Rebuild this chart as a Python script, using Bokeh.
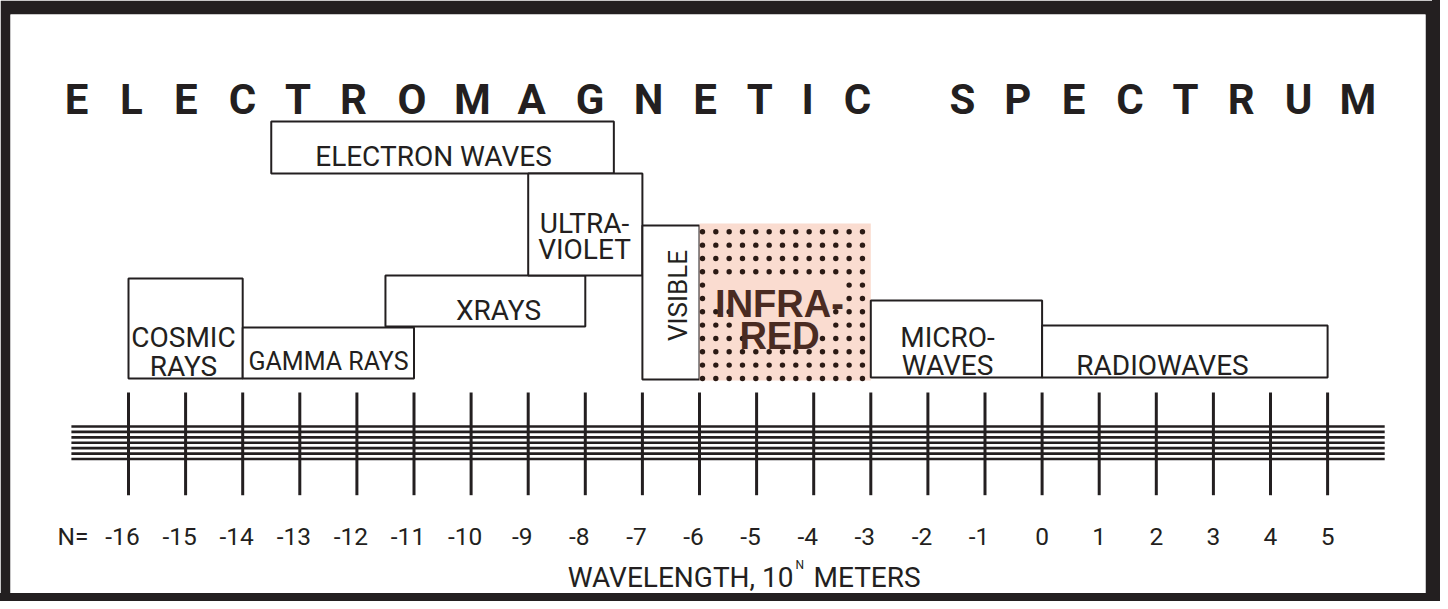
import numpy as np
from bokeh.plotting import figure
from bokeh.models import Range1d, ColumnDataSource
from bokeh.core.properties import value
from bokeh.embed import file_html
from bokeh.resources import INLINE

# ---------------- data ----------------
title_text = "ELECTROMAGNETIC SPECTRUM"
band_names = ["COSMIC\nRAYS", "GAMMA RAYS", "XRAYS", "ELECTRON WAVES",
              "ULTRA-\nVIOLET", "VISIBLE", "INFRA-\nRED", "MICRO-\nWAVES", "RADIOWAVES"]
band_from = [-16, -14, -11.5, -13.5, -9, -7, -6, -3, 0]   # N, wavelength = 10^N m
band_to = [-14, -11, -8, -7.5, -7, -6, -3, 0, 5]
tick_n = list(range(-16, 6))
tick_text = [str(n) for n in tick_n]
axis_prefix = "N="
axis_title_main = "WAVELENGTH, 10"
axis_title_sup = "N"
axis_title_unit = "METERS"

# ---------------- layout / style ----------------
DARK = "#231f20"
PEACH = "#fadcd0"
DOT = "#2b1a14"
IR_TEXT = "#4a2b22"
ROBOTO = "Roboto"
BOLD = "Liberation Sans"

PX0, PXU = 136.0, 57.1          # screen x of N=-16, pixels per unit of N


def nx(px):
    return -16 + (px - PX0) / PXU


band_top = [286, 335, 283, 129, 181, 233, 231, 308, 333]
band_bottom = [386, 386, 334, 181, 283, 387, 388, 385, 385]
band_fill = ["white"] * 6 + [PEACH] + ["white"] * 2
band_line_alpha = [1] * 6 + [0] + [1] * 2

label_cx = [191, 336, 506, 441, 592, 685, 787, 955, 1170]
label_base = [345.3, 368.8, 317.7, 164.3, 231, 303, 311, 345, 372.7]
label_gap = [28.7, 0, 0, 0, 25.7, 0, 32.6, 27.7, 0]
label_font = [ROBOTO, ROBOTO, ROBOTO, ROBOTO, ROBOTO, ROBOTO, BOLD, ROBOTO, ROBOTO]
label_size = ["28px", "25px", "28px", "28px", "28px", "26px", "38px", "28px", "28px"]
label_style = ["normal"] * 6 + ["bold"] + ["normal"] * 2
label_color = [DARK] * 6 + [IR_TEXT] + [DARK] * 2
label_angle = [0, 0, 0, 0, 0, np.pi / 2, 0, 0, 0]

p = figure(width=1432, height=593,
           x_range=Range1d(nx(18), nx(1433)), y_range=Range1d(601, 22),
           output_backend="svg", toolbar_location=None,
           x_axis_location=None, y_axis_location=None,
           min_border_left=10, min_border_right=7, min_border_top=14, min_border_bottom=0,
           border_fill_color=DARK, background_fill_color="white",
           outline_line_color=None)
p.grid.grid_line_color = None
p.styles = {"box-shadow": f"8px 0 0 0 {DARK}, 0 8px 0 0 {DARK}, 8px 8px 0 0 {DARK}"}

# ---- bands ----
src = ColumnDataSource(dict(left=band_from, right=band_to, top=band_top, bottom=band_bottom,
                            fill=band_fill, la=band_line_alpha))
p.quad(left="left", right="right", top="top", bottom="bottom", source=src,
       fill_color="fill", line_color=DARK, line_alpha="la", line_width=2)

# ---- infrared dot texture ----
cols = nx(710) + np.arange(13) * (13.33 / PXU)
rows = 239.3 + np.arange(12) * 13.33
knock = [(716, 852, 285, 314), (745, 836, 314, 340), (757, 822, 340, 350)]
dx, dy = [], []
for r in rows:
    for c in cols:
        cpx = PX0 + (c + 16) * PXU
        if any(a <= cpx <= b and t <= r <= bt for a, b, t, bt in knock):
            continue
        dx.append(c)
        dy.append(r)
p.scatter(dx, dy, size=5.4, color=DOT, line_color=None)

# ---- band labels ----
for i, name in enumerate(band_names):
    lines = name.split("\n")
    ys = [label_base[i] + k * label_gap[i] for k in range(len(lines))]
    p.text(x=[nx(label_cx[i])] * len(lines), y=ys, text=lines,
           text_font=value(label_font[i]), text_font_size=label_size[i],
           text_font_style=label_style[i], text_color=label_color[i],
           text_align="center", text_baseline="alphabetic", angle=label_angle[i])

# ---- scale: horizontal bundle of lines and ticks ----
line_y = np.linspace(434, 466.5, 7)
p.segment(x0=[-17] * 7, x1=[6] * 7, y0=line_y, y1=line_y, line_color=DARK, line_width=2.7)
p.segment(x0=tick_n, x1=tick_n, y0=[400] * len(tick_n), y1=[502.7] * len(tick_n),
          line_color=DARK, line_width=3)

offs = [-6 if t.startswith("-") else 0 for t in tick_text]
p.text(x=tick_n, y=[544] * len(tick_n), text=tick_text, x_offset=offs,
       text_font=value(ROBOTO), text_font_size="24.5px", text_color=DARK,
       text_align="center", text_baseline="alphabetic")
p.text(x=[nx(80.4)], y=[544], text=[axis_prefix], text_font=value(ROBOTO),
       text_font_size="24.5px", text_color=DARK, text_align="center", text_baseline="alphabetic")

# ---- axis title ----
p.text(x=[nx(801)], y=[585], text=[axis_title_main], text_font=value(ROBOTO),
       text_font_size="28px", text_color=DARK, text_align="right", text_baseline="alphabetic")
p.text(x=[nx(803)], y=[572.5], text=[axis_title_sup], text_font=value(ROBOTO),
       text_font_size="12px", text_color=DARK, text_align="left", text_baseline="alphabetic")
p.text(x=[nx(821)], y=[585], text=[axis_title_unit], text_font=value(ROBOTO),
       text_font_size="28px", text_color=DARK, text_align="left", text_baseline="alphabetic")

# ---- spaced title ----
W_BOLD = {'E': .667, 'L': .611, 'C': .722, 'T': .611, 'R': .722, 'O': .778, 'M': .833,
          'A': .722, 'G': .778, 'N': .722, 'I': .278, 'S': .667, 'P': .667, 'U': .722}
em = 0.82 * 42
gap, word_extra = 32.6, 48.4
xpos, tx, tt = 72.7, [], []
for ch in title_text:
    if ch == " ":
        xpos += word_extra
        continue
    w = W_BOLD[ch] * em
    tx.append(nx(xpos + w / 2))
    tt.append(ch)
    xpos += w + gap
p.text(x=tx, y=[106.7] * len(tt), text=tt, text_font=value(ROBOTO), text_font_size="42px",
       text_font_style="bold", text_color=DARK, text_align="center", text_baseline="alphabetic")

open("out.html", "w").write(file_html(p, INLINE))
